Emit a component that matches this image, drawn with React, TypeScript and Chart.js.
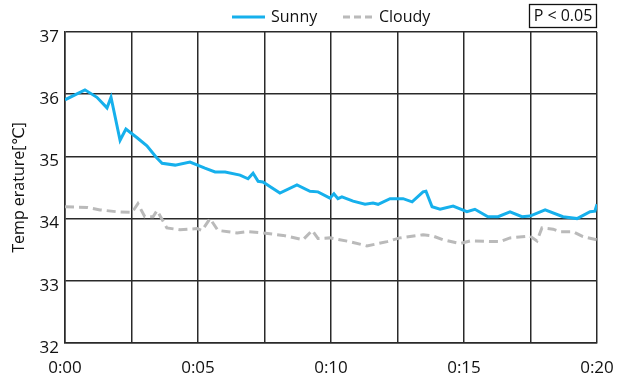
import React, { useEffect, useRef } from "react";
import { Chart, registerables } from "chart.js";

Chart.register(...registerables);

// Time in minutes, temperature in °C
const sunnyTime = [0, 0.75, 1.2, 1.58, 1.73, 2.07, 2.29, 2.71, 3.08, 3.42, 3.65, 4.14, 4.7, 5.26, 5.64, 6.02, 6.58, 6.88, 7.07, 7.26, 7.44, 8.08, 8.72, 9.21, 9.51, 9.96, 10.11, 10.26, 10.41, 10.83, 11.28, 11.58, 11.77, 12.22, 12.71, 13.05, 13.46, 13.57, 13.8, 14.1, 14.59, 15.11, 15.41, 15.9, 16.28, 16.73, 17.18, 17.48, 18.05, 18.72, 19.25, 19.74, 19.92, 20];
const sunnyTemp = [35.91, 36.07, 35.95, 35.78, 35.95, 35.26, 35.44, 35.3, 35.17, 34.99, 34.89, 34.86, 34.91, 34.81, 34.75, 34.75, 34.7, 34.64, 34.73, 34.6, 34.59, 34.41, 34.54, 34.44, 34.43, 34.33, 34.4, 34.32, 34.35, 34.28, 34.23, 34.25, 34.23, 34.32, 34.32, 34.27, 34.43, 34.44, 34.19, 34.15, 34.2, 34.11, 34.15, 34.03, 34.03, 34.11, 34.03, 34.04, 34.14, 34.03, 34.0, 34.11, 34.12, 34.23];

const cloudyTime = [0, 0.83, 1.32, 1.95, 2.52, 2.74, 3.0, 3.31, 3.46, 3.83, 4.32, 4.96, 5.15, 5.45, 5.75, 6.47, 6.84, 7.44, 8.2, 8.95, 9.29, 9.51, 9.96, 10.71, 11.35, 12.11, 12.59, 13.46, 13.83, 14.21, 14.85, 15.23, 16.35, 16.73, 17.48, 17.74, 17.93, 18.35, 18.61, 19.1, 19.47, 20];
const cloudyTemp = [34.19, 34.18, 34.14, 34.11, 34.1, 34.24, 34.03, 34.03, 34.13, 33.85, 33.82, 33.84, 33.81, 34.0, 33.81, 33.77, 33.79, 33.77, 33.73, 33.66, 33.81, 33.68, 33.69, 33.63, 33.56, 33.63, 33.69, 33.74, 33.72, 33.66, 33.6, 33.64, 33.63, 33.69, 33.72, 33.64, 33.85, 33.83, 33.79, 33.79, 33.71, 33.66];

const seriesNames = ["Sunny", "Cloudy"];
const yTicks = [32, 33, 34, 35, 36, 37];
const xLabelEvery = 5;
const yTitle = "Temp erature[℃]";
const note = "P < 0.05";

const FONT = "'Open Sans', 'DejaVu Sans', sans-serif";

function fmtTime(v: number) {
  const m = Math.round(v);
  return "0:" + (m < 10 ? "0" + m : String(m));
}

const headerPlugin = {
  id: "header",
  afterDraw(chart: any) {
    const ctx = chart.ctx;
    ctx.save();
    const ds = chart.data.datasets;
    const items = [
      { x0: 232, x1: 265, tx: 271, ds: ds[0] },
      { x0: 343, x1: 374, tx: 379, ds: ds[1] },
    ];
    const ly = 17;
    ctx.font = "16px " + FONT;
    ctx.textBaseline = "middle";
    ctx.textAlign = "left";
    items.forEach((it) => {
      ctx.beginPath();
      ctx.strokeStyle = it.ds.borderColor;
      ctx.lineWidth = 3;
      ctx.setLineDash(it.ds.borderDash ? [7, 4] : []);
      ctx.moveTo(it.x0, ly);
      ctx.lineTo(it.x1, ly);
      ctx.stroke();
      ctx.setLineDash([]);
      ctx.fillStyle = "#111";
      ctx.fillText(it.ds.label, it.tx, ly);
    });
    // note box
    ctx.strokeStyle = "#111";
    ctx.lineWidth = 1.3;
    ctx.strokeRect(529.5, 4.5, 67, 23);
    ctx.textAlign = "center";
    ctx.fillStyle = "#111";
    ctx.fillText(note, 563, 16.5);
    ctx.restore();
  },
};

export default function App() {
  const ref = useRef<HTMLCanvasElement | null>(null);
  useEffect(() => {
    if (!ref.current) return;
    const chart = new Chart(ref.current, {
      type: "line",
      data: {
        datasets: [
          {
            label: seriesNames[0],
            data: sunnyTime.map((t, i) => ({ x: t, y: sunnyTemp[i] })),
            borderColor: "#16b0ec",
            borderWidth: 3,
            pointRadius: 0,
            tension: 0,
            fill: false,
          },
          {
            label: seriesNames[1],
            data: cloudyTime.map((t, i) => ({ x: t, y: cloudyTemp[i] })),
            borderColor: "#bababa",
            borderWidth: 3,
            borderDash: [9, 5],
            pointRadius: 0,
            tension: 0,
            fill: false,
          },
        ],
      },
      options: {
        animation: false,
        responsive: true,
        maintainAspectRatio: false,
        layout: { padding: { top: 32, right: 26, left: 0, bottom: 0 } },
        plugins: { legend: { display: false }, tooltip: { enabled: false } },
        scales: {
          x: {
            type: "linear",
            min: 0,
            max: 20,
            afterBuildTicks: (scale: any) => {
              const t = [];
              for (let v = 0; v <= 20; v += 2.5) t.push({ value: v });
              scale.ticks = t;
            },
            afterFit: (scale: any) => {
              scale.height = 31;
              scale.paddingLeft = 0;
              scale.paddingRight = 0;
            },
            ticks: {
              autoSkip: false,
              maxRotation: 0,
              padding: 15,
              color: "#111",
              font: { family: FONT, size: 17 },
              callback: (v: any) => (Number(v) % xLabelEvery === 0 ? fmtTime(Number(v)) : ""),
            },
            grid: { color: "#2a2a2a", lineWidth: 1.5, drawTicks: false },
            border: { color: "#2a2a2a", width: 1.5 },
          },
          y: {
            min: yTicks[0],
            max: yTicks[yTicks.length - 1],
            afterBuildTicks: (scale: any) => {
              scale.ticks = yTicks.map((v) => ({ value: v }));
            },
            afterFit: (scale: any) => {
              scale.width = 65;
              scale.paddingTop = 0;
              scale.paddingBottom = 0;
            },
            ticks: {
              padding: 6,
              labelOffset: 5,
              color: "#111",
              font: { family: FONT, size: 17 },
            },
            title: {
              display: true,
              text: yTitle,
              color: "#111",
              font: { family: FONT, size: 16 },
              padding: { top: 10, bottom: 0 },
            },
            grid: { color: "#2a2a2a", lineWidth: 1.5, drawTicks: false },
            border: { color: "#2a2a2a", width: 1.5 },
          },
        },
      },
      plugins: [headerPlugin],
    } as any);
    return () => chart.destroy();
  }, []);
  return (
    <div style={{ position: "fixed", left: 0, top: 0, width: 623, height: 374, background: "#fff" }}>
      <canvas ref={ref} />
    </div>
  );
}
